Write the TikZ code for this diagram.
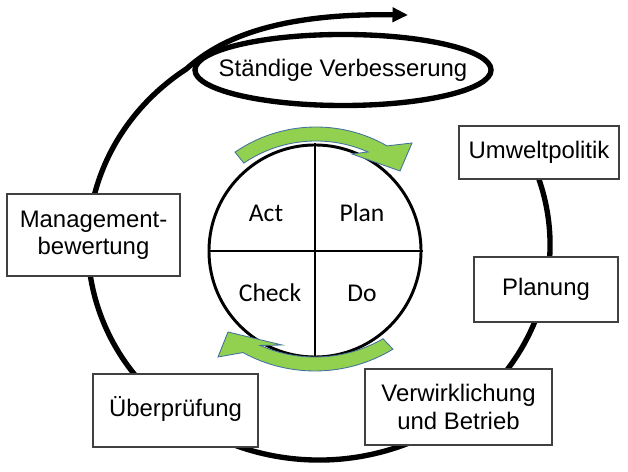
\documentclass[tikz,border=0pt]{standalone}
\usepackage{fontspec}
\setmainfont{Liberation Sans}
\newfontfamily\calibri{Carlito}
\usetikzlibrary{shapes.geometric,arrows.meta,calc}
\definecolor{pdcagreen}{HTML}{92D050}
\definecolor{pdcaedge}{HTML}{41719C}

\begin{document}
\begin{tikzpicture}[
    x=0.025cm, y=0.025cm,
    box/.style={rectangle, draw=black!75, line width=0.8pt, fill=white, align=center, inner sep=0pt, font=\fontsize{17}{19.5}\selectfont},
    oneline/.style={text height=1em, text depth=0.16em},
    ring/.style={line width=3.8pt},
    cyclearrow/.style={fill=pdcagreen, draw=pdcaedge, line width=0.6pt},
    quarter/.style={font=\calibri\fontsize{18.2}{20}\selectfont}
]
    \useasboundingbox (0,0) rectangle (628,471);

    % Kreislauf
    \coordinate (ringc) at (319,226);
    \coordinate (ringend) at (408,456);
    \draw[ring, -{Triangle[length=11pt,width=10pt]}] ($(ringc)+(20:231 and 215)$)
        arc[start angle=20, end angle=-235, x radius=231, y radius=215]
        .. controls (216.5,429) and (270,458) .. (ringend);

    \node[ellipse, draw, ring, minimum width=7.4cm, minimum height=1.775cm, inner sep=0pt] (verbesserung) at (343,401) {};
    \node[font=\fontsize{17}{19.5}\selectfont] (verbtext) at (verbesserung.center) {Ständige Verbesserung};

    % PDCA
    \node[circle, draw, line width=2.1pt, minimum size=5.3cm, inner sep=0pt] (pdca) at (315,220) {};
    \draw[line width=2.1pt] (pdca.north) -- (pdca.south);
    \draw[line width=2.1pt] (pdca.west) -- (pdca.east);

    \node[quarter] (act) at (266,258) {Act};
    \node[quarter] (plan) at (362,258) {Plan};
    \node[quarter] (check) at (270,178) {Check};
    \node[quarter] (do) at (362,178) {Do};

    % gruene Pfeile
    \coordinate (topc) at (316,201);
    \draw[cyclearrow] ($(topc)+(124.5:143)$) arc[start angle=124.5, end angle=60.2, radius=143]
        -- (412,328) -- (400,300) -- (352,317) -- ($(topc)+(66.2:129)$)
        arc[start angle=66.2, end angle=124, radius=129] -- cycle;

    \coordinate (botc) at (315,250);
    \draw[cyclearrow] ($(botc)+(-60:136)$) arc[start angle=-60, end angle=-113.8, radius=136]
        -- (282,126) -- (228,139) -- (218,114) -- ($(botc)+(-118.7:150)$)
        arc[start angle=-118.7, end angle=-58.7, radius=150] -- cycle;

    % Schritte
    \node[box, oneline, minimum width=4cm, minimum height=1.325cm] (umwelt) at (539,318.5) {Umweltpolitik};
    \node[box, oneline, minimum width=3.6cm, minimum height=1.625cm] (planung) at (546,181.5) {Planung};
    \node[box, minimum width=4.675cm, minimum height=1.9cm] (betrieb) at (458.5,64) {Verwirklichung\\und Betrieb};
    \node[box, oneline, minimum width=4.125cm, minimum height=1.825cm] (pruefung) at (175.5,60.5) {Überprüfung};
    \node[box, minimum width=4.325cm, minimum height=2.05cm] (bewertung) at (93.5,236) {Management-\\bewertung};
\end{tikzpicture}
\end{document}
